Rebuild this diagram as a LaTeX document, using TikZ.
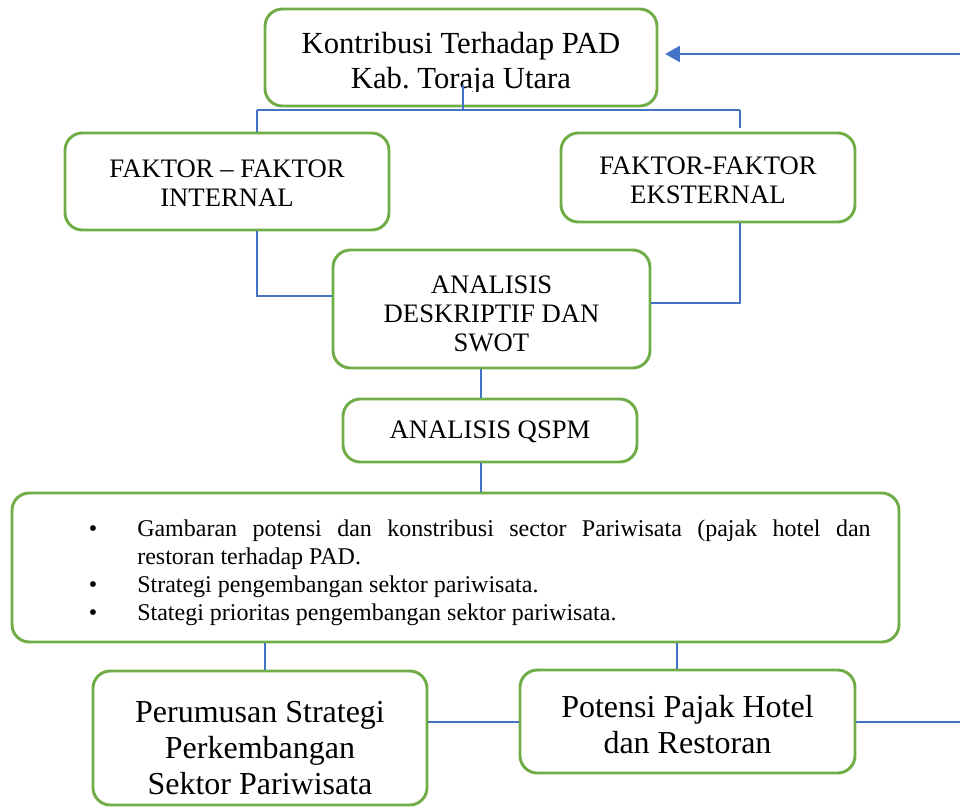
\documentclass[tikz,border=0pt]{standalone}
\usepackage{fontspec}
\setmainfont{Liberation Serif}
\usetikzlibrary{arrows.meta,calc}
\definecolor{boxgreen}{HTML}{70AD47}
\definecolor{linkblue}{HTML}{4472C4}
\newcommand\bulitem[1]{\noindent\llap{\textbullet\hspace{30pt}}#1\par}
\frenchspacing
\begin{document}
\begin{tikzpicture}[x=0.75pt,y=-0.75pt,
  box/.style={draw=boxgreen,line width=2.2pt,rounded corners=13pt,fill=white},
  conn/.style={draw=linkblue,line width=0.8pt},
  link/.style={draw=linkblue,line width=1.4pt},
  txt/.style={align=center,inner sep=0pt}]
\useasboundingbox (0,0) rectangle (960,807);
% boxes
\node[box,minimum width=294pt,minimum height=72.75pt] (top) at (461,57.5) {};
\node[box,minimum width=243pt,minimum height=72.75pt] (internal) at (227,181.5) {};
\node[box,minimum width=220.5pt,minimum height=66.75pt] (eksternal) at (708,177.5) {};
\node[box,minimum width=237.75pt,minimum height=88.5pt] (analisis) at (491.5,309) {};
\node[box,minimum width=220.5pt,minimum height=47.25pt] (qspm) at (490,430.5) {};
\node[box,minimum width=665.25pt,minimum height=111.75pt] (big) at (455.5,567.5) {};
\node[box,minimum width=250.5pt,minimum height=100.5pt] (perumusan) at (260,738) {};
\node[box,minimum width=251.25pt,minimum height=77.25pt] (potensi) at (687.5,721.5) {};
% texts
\begin{scope}
\clip (265,9) rectangle (657,91);
\node[txt,font=\fontsize{23pt}{26.25pt}\selectfont] (topt) at (461,64) {Kontribusi Terhadap PAD\\Kab. Toraja Utara};
\end{scope}
\node[txt,font=\fontsize{20pt}{22pt}\selectfont] (internalt) at (227,183) {FAKTOR -- FAKTOR\\INTERNAL};
\node[txt,font=\fontsize{20pt}{22pt}\selectfont] (eksternalt) at (708,180) {FAKTOR-FAKTOR\\EKSTERNAL};
\node[txt,font=\fontsize{20pt}{22pt}\selectfont] (analisist) at (491.5,314) {ANALISIS\\DESKRIPTIF DAN\\SWOT};
\node[txt,font=\fontsize{20pt}{22pt}\selectfont] (qspmt) at (490,432) {ANALISIS QSPM};
\node[inner sep=0pt,anchor=base west,font=\fontsize{18pt}{21pt}\selectfont] (bigt) at (137,536)
 {\parbox[t]{550pt}{\hyphenpenalty=10000\exhyphenpenalty=10000\hbadness=10000
  \bulitem{Gambaran potensi dan konstribusi sector Pariwisata (pajak hotel dan\linebreak restoran terhadap PAD.}
  \bulitem{Strategi pengembangan sektor pariwisata.}
  \bulitem{Stategi prioritas pengembangan sektor pariwisata.}}};
\begin{scope}
\clip (93,671) rectangle (427,797);
\node[txt,font=\fontsize{24pt}{27pt}\selectfont] (perumusant) at (260,748) {Perumusan Strategi\\Perkembangan\\Sektor Pariwisata};
\end{scope}
\node[txt,font=\fontsize{24pt}{27pt}\selectfont] (potensit) at (687.5,725) {Potensi Pajak Hotel\\dan Restoran};
% connectors
\coordinate (tA) at (463,85);
\coordinate (tM) at (463,110);
\coordinate (tL) at (257,110);
\coordinate (tR) at (740,110);
\coordinate (tRe) at (740,128);
\coordinate (yL) at (0,296);
\coordinate (yR) at (0,303);
\coordinate (xm) at (481,0);
\coordinate (xl) at (265,0);
\coordinate (xr) at (677,0);
\coordinate (yb) at (0,722);
\coordinate (yT) at (0,54);
\coordinate (eR) at (966,722);
\coordinate (eT) at (966,54);
\draw[conn] (tA) -- (tM);
\draw[conn] (tL) -- (tR);
\draw[conn] (tL) -- (tL |- internal.north);
\draw[conn] (tR) -- (tRe);
\draw[conn] (internal.south -| tL) |- (analisis.west |- yL);
\draw[conn] (eksternal.south -| tR) |- (analisis.east |- yR);
\draw[conn] (analisis.south -| xm) -- (qspm.north -| xm);
\draw[conn] (qspm.south -| xm) -- (big.north -| xm);
\draw[conn] (big.south -| xl) -- (perumusan.north -| xl);
\draw[conn] (big.south -| xr) -- (potensi.north -| xr);
\draw[conn] (perumusan.east |- yb) -- (potensi.west |- yb);
\draw[link,-{Triangle[length=11pt,width=12pt]},shorten >=5pt] (potensi.east |- yb) -- (eR) -- (eT) -- (top.east |- yT);
\end{tikzpicture}
\end{document}
